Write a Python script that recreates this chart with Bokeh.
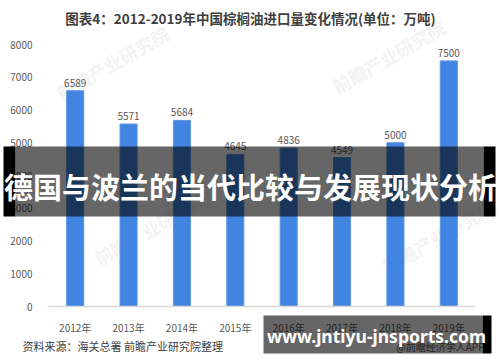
from bokeh.plotting import figure
from bokeh.models import Range1d, Label, BoxAnnotation, ColumnDataSource, FixedTicker
from bokeh.embed import file_html
from bokeh.resources import INLINE
from bokeh.core.properties import value

# ---- data ----
years = ["2012年", "2013年", "2014年", "2015年", "2016年", "2017年", "2018年", "2019年"]
imports = [6589, 5571, 5684, 4645, 4836, 4549, 5000, 7500]
y_ticks = [0, 1000, 2000, 3000, 4000, 5000, 6000, 7000, 8000]

title_text = "图表4：2012-2019年中国棕榈油进口量变化情况(单位：万吨)"
source_text = "资料来源：海关总署 前瞻产业研究院整理"
credit_text = "@前瞻经济学人APP"
banner_text = "德国与波兰的当代比较与发展现状分析"
url_text = "www.jntiyu-jnsports.com"
watermark_text = "前瞻产业研究院"

CJK = "Noto Sans CJK SC"
W, H = 500, 362
# plot area on the page (pixels)
FL, FR, FT, FB = 48, 475, 44, 306
YMAX = 8000
n = len(years)

xpos = [i + 0.5 for i in range(n)]
src = ColumnDataSource(dict(x=xpos, val=imports, lbl=[str(v) for v in imports]))

xpp = n / (FR - FL)          # data units per pixel (x)
ypp = YMAX / (FB - FT)       # data units per pixel (y)
x_range = Range1d(-FL * xpp, n + (W - FR) * xpp)
y_range = Range1d(-(H - FB) * ypp, YMAX + FT * ypp)

p = figure(width=W, height=H, x_range=x_range, y_range=y_range,
           output_backend="svg", toolbar_location=None, min_border=0)
p.outline_line_color = None
p.background_fill_color = "white"
p.border_fill_color = "white"
p.xgrid.visible = False
p.ygrid.visible = False

def sy(py):
    return H - py

def lab(x, y, text, **kw):
    p.add_layout(Label(x=x, y=sy(y), x_units="screen", y_units="screen", text=text, **kw))

def box(l, r, t, b, color, alpha):
    p.add_layout(BoxAnnotation(left=l, right=r, top=sy(t), bottom=sy(b),
                               left_units="screen", right_units="screen",
                               top_units="screen", bottom_units="screen",
                               fill_color=color, fill_alpha=alpha, line_color=None))

# faint watermarks (under everything)
for wx, wy in [(112, 62), (388, 56), (150, 228), (438, 236)]:
    lab(wx, wy, watermark_text, text_align="center", text_baseline="middle", text_font=CJK,
        text_font_size="18px", text_font_style="bold", text_color="#f3f3f3", angle=0.52,
        level="underlay")

p.vbar(x="x", top="val", width=0.32, source=src, fill_color="#4285e0", line_color="#5d97e6", line_width=1)
p.text(x="x", y="val", text="lbl", source=src, text_align="center", text_baseline="bottom",
       y_offset=-4, text_font=value(CJK), text_font_size="10px", text_color="#595959")

# axes drawn inside the canvas
p.yaxis.fixed_location = 0
p.yaxis.bounds = (0, YMAX)
p.yaxis.ticker = FixedTicker(ticks=y_ticks)
p.yaxis.axis_line_color = None
p.yaxis.major_tick_line_color = None
p.yaxis.minor_tick_line_color = None
p.yaxis.major_label_standoff = 10
p.yaxis.major_label_text_font = CJK
p.yaxis.major_label_text_font_size = "10px"
p.yaxis.major_label_text_color = "#595959"

p.xaxis.fixed_location = 0
p.xaxis.bounds = (0, n)
p.xaxis.ticker = FixedTicker(ticks=xpos)
p.xaxis.major_label_overrides = {x: y for x, y in zip(xpos, years)}
p.xaxis.axis_line_color = "#d9d9d9"
p.xaxis.axis_line_width = 1.5
p.xaxis.major_tick_line_color = None
p.xaxis.minor_tick_line_color = None
p.xaxis.major_label_standoff = 7
p.xaxis.major_label_text_font = CJK
p.xaxis.major_label_text_font_size = "10px"
p.xaxis.major_label_text_color = "#595959"

lab(250, 17, title_text, text_align="center", text_baseline="middle", text_font=CJK,
    text_font_size="13.5px", text_font_style="bold", text_color="#404040")
lab(22, 345, source_text, text_align="left", text_baseline="middle", text_font=CJK,
    text_font_size="11px", text_color="#404040")
lab(484, 346, credit_text, text_align="right", text_baseline="middle", text_font=CJK,
    text_font_size="10px", text_color="#595959")

# overlay banners
box(15, 483, 146, 216, "black", 0.6)
box(3, 15, 146, 216, "black", 1.0)
box(483, 495, 146, 216, "black", 1.0)
lab(250, 185, banner_text, text_align="center", text_baseline="middle", text_font=CJK,
    text_font_size="29px", text_font_style="bold", text_color="white")

box(263, 482, 315, 353, "black", 0.6)
box(482, 491, 315, 353, "black", 1.0)
lab(376, 335, url_text, text_align="center", text_baseline="middle", text_font="Noto Sans",
    text_font_size="17.5px", text_font_style="bold", text_color="white")

open("out.html", "w").write(file_html(p, INLINE))
